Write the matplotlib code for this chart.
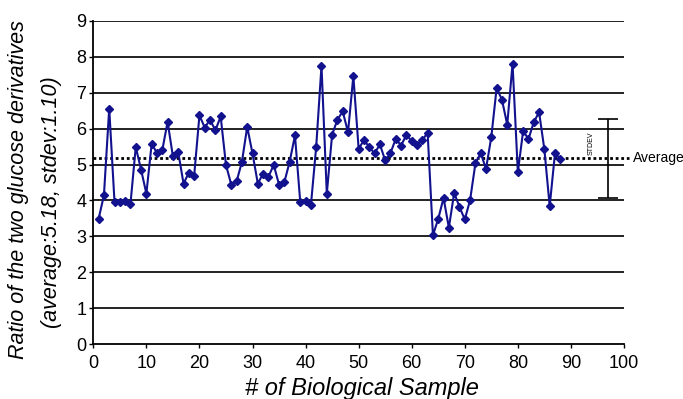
import matplotlib
matplotlib.use("Agg")
import matplotlib.pyplot as plt

samples = list(range(1, 89))
ratios = [3.49, 4.14, 6.56, 3.95, 3.95, 3.99, 3.90, 5.49, 4.86, 4.19,
          5.58, 5.32, 5.40, 6.19, 5.23, 5.35, 4.47, 4.77, 4.68, 6.37,
          6.03, 6.25, 5.95, 6.34, 4.99, 4.44, 4.53, 5.07, 6.05, 5.31,
          4.47, 4.75, 4.66, 4.99, 4.44, 4.51, 5.08, 5.81, 3.95, 3.98,
          3.86, 5.49, 7.75, 4.19, 5.83, 6.25, 6.48, 5.90, 7.47, 5.44,
          5.68, 5.49, 5.31, 5.56, 5.12, 5.32, 5.72, 5.53, 5.83, 5.65,
          5.55, 5.69, 5.88, 3.03, 3.49, 4.07, 3.24, 4.21, 3.82, 3.47,
          4.01, 5.03, 5.32, 4.88, 5.77, 7.13, 6.81, 6.11, 7.81, 4.79,
          5.94, 5.71, 6.18, 6.46, 5.42, 3.84, 5.32, 5.16]
average = 5.18
stdev = 1.10
x_ticks = list(range(0, 101, 10))
y_ticks = list(range(0, 10))

plt.rcParams['font.family'] = ['Liberation Sans', 'DejaVu Sans']

fig = plt.figure(figsize=(6.83, 3.99), dpi=100)
ax = fig.add_axes([0.1366, 0.1378, 0.7770, 0.8096])

for y in y_ticks[1:]:
    ax.axhline(y, color='#111111', lw=1.3, zorder=1)

ax.plot(samples, ratios, color='#12128e', lw=1.5, marker='D', ms=4.5,
        markerfacecolor='#12128e', markeredgecolor='#12128e', zorder=3)

# average line
ax.plot([0, 101], [average, average], color='black', ls=(0, (1, 1)), lw=2,
        clip_on=False, zorder=2)
ax.text(101.6, average, 'Average', fontsize=10, va='center', ha='left')

# stdev bar
ax.errorbar([97], [average], yerr=[stdev], color='black', lw=1.2,
            capsize=7.5, capthick=1.2, clip_on=False, zorder=2)
ax.text(93.8, 5.58, 'STDEV', rotation=90, fontsize=5, ha='center', va='center')

ax.set_xlim(0, 100)
ax.set_ylim(0, 9)
ax.set_xticks(x_ticks)
ax.set_yticks(y_ticks)
ax.tick_params(axis='both', labelsize=13, length=3, width=1, color='black',
               direction='out')
ax.tick_params(axis='x', pad=5)
ax.tick_params(axis='y', pad=2)
for s in ['top', 'right']:
    ax.spines[s].set_visible(False)
for s in ['left', 'bottom']:
    ax.spines[s].set_linewidth(1.3)

fig.text(362 / 683, 1 - 389 / 399, '# of Biological Sample', fontsize=17,
         style='italic', ha='center', va='center')
fig.text(18.5 / 683, 1 - 189.5 / 399, 'Ratio of the two glucose derivatives',
         fontsize=15.5, style='italic', rotation=90, ha='center', va='center')
fig.text(51.5 / 683, 1 - 202 / 399, '(average:5.18, stdev:1.10)',
         fontsize=15.5, style='italic', rotation=90, ha='center', va='center')

fig.savefig('out.png', dpi=100)
